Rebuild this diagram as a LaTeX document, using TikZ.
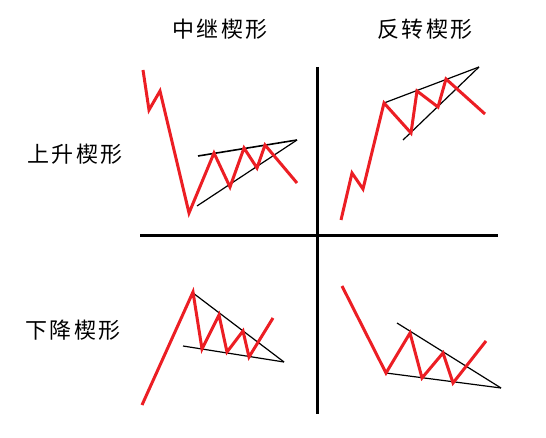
\documentclass[tikz,border=0pt]{standalone}
\usepackage{fontspec}
\newfontfamily\cjk[LetterSpace=12]{Noto Sans CJK SC}
\definecolor{chartred}{RGB}{236,30,36}
\tikzset{
  price/.style={draw=chartred, line width=3pt, line join=miter, miter limit=4},
  trend/.style={draw=black, line width=1.2pt},
  divider/.style={draw=black, line width=3pt},
  label/.style={font=\cjk\fontsize{22}{22}\selectfont, inner sep=0pt}
}
\begin{document}
\begin{tikzpicture}[x=1pt,y=-1pt]
\useasboundingbox (0,0) rectangle (546,438);
% labels
\node[label] (t1) at (220,29) {中继楔形};
\node[label] (t2) at (425,29) {反转楔形};
\node[label] (t3) at (75,154) {上升楔形};
\node[label] (t4) at (73,330) {下降楔形};
% dividers
\draw[divider] (140,236) -- (498,236);
\draw[divider] (317,67) -- (317,414);
% top-left: continuation rising wedge
\coordinate (a1) at (198,156);
\coordinate (a2) at (297,140);
\coordinate (a3) at (197,206);
\draw[trend, line width=1.6pt] (a1) -- (a2);
\draw[trend] (a3) -- (a2);
\draw[price] (143,70) -- (149,110) -- (160,91) -- (189,213) -- (214,153) -- (230,187)
  -- (244,148) -- (257,168) -- (265,145) -- (297,183);
% top-right: reversal rising wedge
\coordinate (b1) at (384,103);
\coordinate (b2) at (479,67);
\coordinate (b3) at (403,140);
\draw[trend] (b1) -- (b2);
\draw[trend] (b3) -- (b2);
\draw[price] (341,220) -- (352,173) -- (363,189) -- (384,103) -- (411,133) -- (417,91)
  -- (438,107) -- (446,79) -- (485,114);
% bottom-left: continuation falling wedge
\coordinate (c1) at (193,293);
\coordinate (c2) at (284,362);
\coordinate (c3) at (183,346);
\draw[trend] (c1) -- (c2);
\draw[trend] (c3) -- (c2);
\draw[price] (142,405) -- (193,292) -- (202,349) -- (219,315) -- (227,352) -- (243,331)
  -- (249,357) -- (273,318);
% bottom-right: reversal falling wedge
\coordinate (d1) at (397,323);
\coordinate (d2) at (501,388);
\coordinate (d3) at (386,373);
\draw[trend] (d1) -- (d2);
\draw[trend] (d3) -- (d2);
\draw[price] (342,286) -- (386,373) -- (410,333) -- (422,378) -- (443,353) -- (453,383)
  -- (486,341);
\end{tikzpicture}
\end{document}
